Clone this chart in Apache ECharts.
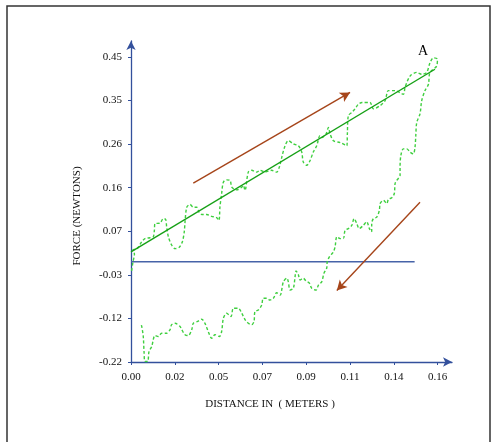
<!DOCTYPE html>
<html>
<head>
<meta charset="utf-8">
<script src="https://cdn.jsdelivr.net/npm/echarts@6/dist/echarts.min.js"></script>
<style>
html,body{margin:0;padding:0;background:#fff;}
#chart{width:494px;height:442px;}
</style>
</head>
<body>
<div id="chart"></div>
<script>
// ---- data ----
var xTickLabels = ['0.00','0.02','0.05','0.07','0.09','0.11','0.14','0.16'];
var yTickLabels = ['-0.22','-0.12','-0.03','0.07','0.16','0.26','0.35','0.45'];
var xRange = [0, 0.16];
var yRange = [-0.22, 0.45];

// hysteresis loop: loading branch (up) then unloading branch (down)
var loopX = [0.0003,0.0010,0.0018,0.0010,0.0031,0.0056,0.0073,0.0099,0.0116,0.0122,0.0125,0.0151,0.0169,0.0181,0.0186,0.0195,0.0212,0.0230,0.0252,0.0268,0.0278,0.0282,0.0291,0.0308,0.0325,0.0343,0.0355,0.0369,0.0395,0.0421,0.0447,0.0459,0.0464,0.0473,0.0482,0.0499,0.0517,0.0526,0.0552,0.0578,0.0586,0.0595,0.0612,0.0630,0.0656,0.0673,0.0699,0.0734,0.0760,0.0774,0.0787,0.0804,0.0821,0.0847,0.0873,0.0891,0.0899,0.0917,0.0934,0.0951,0.0969,0.0986,0.0995,0.1018,0.1030,0.1039,0.1056,0.1091,0.1126,0.1129,0.1134,0.1152,0.1169,0.1186,0.1206,0.1247,0.1265,0.1300,0.1326,0.1343,0.1378,0.1421,0.1430,0.1456,0.1491,0.1517,0.1543,0.1560,0.1578,0.1599,0.1595,
  0.1560,0.1552,0.1534,0.1517,0.1508,0.1491,0.1486,0.1482,0.1473,0.1456,0.1439,0.1421,0.1408,0.1404,0.1404,0.1387,0.1378,0.1374,0.1361,0.1343,0.1335,0.1317,0.1300,0.1296,0.1282,0.1265,0.1256,0.1256,0.1244,0.1230,0.1212,0.1191,0.1178,0.1164,0.1152,0.1134,0.1117,0.1108,0.1091,0.1074,0.1065,0.1056,0.1035,0.1024,0.1021,0.1007,0.0995,0.0978,0.0966,0.0943,0.0931,0.0913,0.0899,0.0882,0.0873,0.0861,0.0856,0.0847,0.0830,0.0821,0.0813,0.0795,0.0778,0.0760,0.0743,0.0725,0.0708,0.0690,0.0682,0.0664,0.0647,0.0642,0.0630,0.0612,0.0595,0.0578,0.0560,0.0534,0.0522,0.0499,0.0482,0.0473,0.0461,0.0438,0.0421,0.0403,0.0386,0.0369,0.0348,0.0325,0.0317,0.0299,0.0282,0.0265,0.0256,0.0230,0.0212,0.0204,0.0186,0.0160,0.0142,0.0125,0.0108,0.0094,0.0087,0.0073,0.0068,0.0064,0.0056,0.0051];
var loopY = [-0.020,-0.001,0.017,0.026,0.028,0.044,0.051,0.053,0.055,0.069,0.084,0.085,0.095,0.093,0.077,0.055,0.037,0.029,0.032,0.044,0.066,0.088,0.120,0.126,0.120,0.120,0.109,0.104,0.104,0.100,0.097,0.091,0.120,0.150,0.175,0.180,0.179,0.164,0.158,0.164,0.168,0.157,0.197,0.201,0.197,0.201,0.197,0.201,0.197,0.208,0.230,0.255,0.266,0.259,0.255,0.241,0.219,0.212,0.222,0.241,0.255,0.277,0.273,0.281,0.295,0.281,0.266,0.262,0.255,0.281,0.321,0.328,0.336,0.346,0.350,0.350,0.336,0.343,0.354,0.376,0.376,0.368,0.383,0.408,0.416,0.412,0.416,0.437,0.448,0.445,0.430,
  0.416,0.390,0.376,0.354,0.325,0.306,0.277,0.252,0.237,0.241,0.248,0.248,0.233,0.208,0.190,0.179,0.172,0.150,0.141,0.137,0.128,0.135,0.128,0.113,0.098,0.095,0.084,0.066,0.073,0.088,0.080,0.073,0.084,0.095,0.080,0.073,0.069,0.051,0.051,0.055,0.033,0.022,0.011,0.000,-0.014,-0.025,-0.044,-0.051,-0.062,-0.058,-0.047,-0.042,-0.036,-0.040,-0.028,-0.020,-0.033,-0.058,-0.062,-0.044,-0.036,-0.044,-0.073,-0.068,-0.080,-0.084,-0.080,-0.080,-0.095,-0.106,-0.109,-0.131,-0.138,-0.135,-0.127,-0.113,-0.102,-0.102,-0.120,-0.113,-0.124,-0.153,-0.164,-0.160,-0.168,-0.153,-0.135,-0.126,-0.131,-0.135,-0.149,-0.162,-0.160,-0.149,-0.142,-0.135,-0.138,-0.149,-0.157,-0.157,-0.164,-0.162,-0.186,-0.197,-0.219,-0.219,-0.197,-0.164,-0.142,-0.135];

var fitX = [0, 0.1586];
var fitY = [0.022, 0.423];

var zeroX = [0, 0.148];
var zeroY = [0, 0];

var arrowUp = [[0.0325, 0.173], [0.1143, 0.372]];
var arrowDown = [[0.1508, 0.131], [0.1074, -0.063]];

var labelA = [[0.1524, 0.4615]];

// ---- build ----
function zip(a, b) { return a.map(function (v, i) { return [v, b[i]]; }); }
function tickValues(range, n) {
  var out = [];
  for (var i = 0; i < n; i++) out.push(range[0] + i * (range[1] - range[0]) / (n - 1));
  return out;
}
var xTicks = tickValues(xRange, xTickLabels.length);
var yTicks = tickValues(yRange, yTickLabels.length);
function labelFor(ticks, labels) {
  return function (v) {
    var best = 0;
    for (var i = 1; i < ticks.length; i++) if (Math.abs(ticks[i] - v) < Math.abs(ticks[best] - v)) best = i;
    return labels[best];
  };
}

var font = 'Liberation Serif';
var axisColor = '#33509c';
var chart = echarts.init(document.getElementById('chart'), null, { renderer: 'canvas' });
chart.setOption({
  animation: false,
  backgroundColor: '#ffffff',
  grid: { left: 131, right: 42, top: 41, bottom: 80, containLabel: false },
  xAxis: {
    type: 'value', min: xRange[0], max: 0.1675,
    axisLine: { show: true, onZero: false, symbol: ['none', 'arrow'], symbolSize: [7, 9], lineStyle: { color: axisColor, width: 1.3 } },
    axisTick: { show: true, customValues: xTicks, length: 3, lineStyle: { color: axisColor } },
    axisLabel: { customValues: xTicks, formatter: labelFor(xTicks, xTickLabels), margin: 10, color: '#111', fontFamily: font, fontSize: 11 },
    splitLine: { show: false }
  },
  yAxis: {
    type: 'value', min: yRange[0], max: 0.485,
    axisLine: { show: true, onZero: false, symbol: ['none', 'arrow'], symbolSize: [7, 9], lineStyle: { color: axisColor, width: 1.3 } },
    axisTick: { show: true, customValues: yTicks, length: 3, lineStyle: { color: axisColor } },
    axisLabel: { customValues: yTicks, formatter: labelFor(yTicks, yTickLabels), margin: 9, color: '#111', fontFamily: font, fontSize: 11 },
    splitLine: { show: false }
  },
  graphic: [
    { type: 'rect', shape: { x: 7, y: 6, width: 483, height: 460 }, style: { fill: 'none', stroke: '#333', lineWidth: 1.5 }, z: 0 },
    { type: 'text', x: 77, y: 216, rotation: Math.PI / 2, style: { text: 'FORCE (NEWTONS)', font: '11px "Liberation Serif"', fill: '#111', textAlign: 'center', textVerticalAlign: 'middle' } },
    { type: 'text', x: 270, y: 404, style: { text: 'DISTANCE IN  ( METERS )', font: '11px "Liberation Serif"', fill: '#111', textAlign: 'center', textVerticalAlign: 'middle' } }
  ],
  series: [
    { type: 'line', data: zip(zeroX, zeroY), symbol: 'none', lineStyle: { color: '#4763a8', width: 1.5 }, z: 1 },
    { type: 'line', data: zip(loopX, loopY), symbol: 'none', smooth: 0.3, lineStyle: { color: '#3fcf3f', width: 1.4, type: [3, 2.2] }, z: 2 },
    { type: 'line', data: zip(fitX, fitY), symbol: 'none', lineStyle: { color: '#16a016', width: 1.4 }, z: 3,
      markLine: {
        silent: true, symbol: ['none', 'arrow'], symbolSize: [8, 10], label: { show: false },
        lineStyle: { color: '#a6451a', width: 1.4, type: 'solid' },
        data: [
          [{ coord: arrowUp[0] }, { coord: arrowUp[1] }],
          [{ coord: arrowDown[0] }, { coord: arrowDown[1] }]
        ]
      }
    },
    { type: 'scatter', data: labelA, symbolSize: 0, itemStyle: { opacity: 1 },
      label: { show: true, position: 'inside', formatter: 'A', color: '#000', opacity: 1, fontFamily: font, fontSize: 14 } }
  ]
});
</script>
</body>
</html>
